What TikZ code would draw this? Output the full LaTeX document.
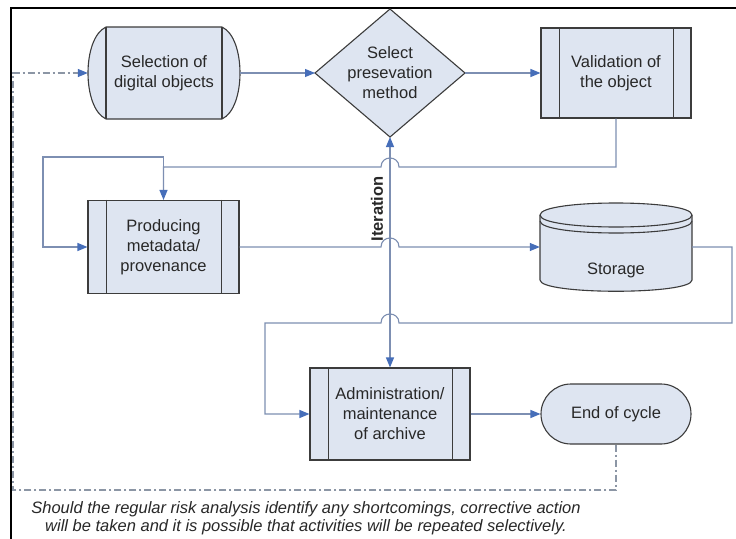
\documentclass[tikz,border=0pt]{standalone}
\usepackage{fontspec}
\setmainfont{Liberation Sans}
\usetikzlibrary{arrows.meta}
\definecolor{boxfill}{RGB}{222,229,241}
\definecolor{boxline}{RGB}{60,60,60}
\definecolor{connc}{RGB}{125,143,178}
\definecolor{tipblue}{RGB}{70,110,185}
\definecolor{dashc}{RGB}{140,150,165}
\definecolor{txt}{RGB}{40,40,40}
\begin{document}
\begin{tikzpicture}[x=1pt,y=-1pt,
  font=\fontsize{16.5}{20}\selectfont,
  shapeline/.style={draw=boxline, line width=1.1pt},
  proc/.style={shapeline, fill=boxfill, align=center, text=txt, inner sep=0pt},
  plain/.style={align=center, text=txt, inner sep=0pt},
  conn/.style={draw=connc, line width=1.1pt},
  arr/.style={-{Triangle[length=10pt,width=8pt,color=tipblue]}},
  dbl/.style={{Triangle[length=10pt,width=8pt,color=tipblue]}-{Triangle[length=10pt,width=8pt,color=tipblue]}},
  dashdot/.style={draw=dashc, line width=1.1pt, dash pattern=on 7pt off 3pt on 2pt off 3pt}]
\useasboundingbox[fill=white] (0,0) rectangle (736,538);

% frame
\draw[black, line width=2pt] (737,8) -- (11,8) -- (11,539);

% Selection shape
\draw[shapeline, fill=boxfill] (106,27) -- (222,27) .. controls (246,38) and (246,108) .. (222,119) -- (106,119) .. controls (82,108) and (82,38) .. (106,27) -- cycle;
\draw[shapeline] (106,27) -- (106,119) (222,27) -- (222,119);
\node[plain, minimum width=152pt, minimum height=92pt] (sel) at (164,73) {Selection of\\digital objects};

% Diamond
\draw[shapeline, fill=boxfill] (315,73) -- (390,9) -- (465,73) -- (390,137) -- cycle;
\coordinate (diaW) at (315,73);
\coordinate (diaE) at (465,73);
\coordinate (diaS) at (390,137);
\node[plain] (dia) at (390,73) {Select\\presevation\\method};

% Validation
\node[proc, minimum width=150pt, minimum height=90pt] (val) at (616,73) {Validation of\\the object};
\draw[shapeline] ([xshift=19pt]val.north west) -- ([xshift=19pt]val.south west)
                 ([xshift=-18pt]val.north east) -- ([xshift=-18pt]val.south east);

% Producing
\node[proc, minimum width=151pt, minimum height=93pt] (prod) at (163.5,247) {Producing\\metadata/\\provenance};
\draw[shapeline] ([xshift=19pt]prod.north west) -- ([xshift=19pt]prod.south west)
                 ([xshift=-18pt]prod.north east) -- ([xshift=-18pt]prod.south east);

% Storage
\draw[shapeline, fill=boxfill] (540,215) -- (540,280) .. controls (540,295) and (692,295) .. (692,280) -- (692,215) .. controls (692,199) and (540,199) .. (540,215) -- cycle;
\draw[shapeline] (540,215) .. controls (540,231) and (692,231) .. (692,215);
\draw[shapeline] (540,221) .. controls (540,237) and (692,237) .. (692,221);
\node[plain, minimum width=152pt, minimum height=88pt] (sto) at (616,247) {};
\node[plain] (stolabel) at (616,270) {Storage};

% Administration
\node[proc, minimum width=160pt, minimum height=92pt] (adm) at (390,414) {Administration/\\maintenance\\of archive};
\draw[shapeline] ([xshift=19pt]adm.north west) -- ([xshift=19pt]adm.south west)
                 ([xshift=-18pt]adm.north east) -- ([xshift=-18pt]adm.south east);

% End of cycle
\node[proc, rounded corners=30pt, minimum width=150pt, minimum height=60pt] (end) at (616,414) {End of cycle};

% connectors
\draw[conn, arr] (sel.east) -- (diaW);
\draw[conn, arr] (diaE) -- (val.west);
\draw[conn, dbl] (adm.north) -- (diaS);
\coordinate (j1) at (163.5,167);
\draw[conn, arr] (val.south) -- (616,167) -- (399,167) .. controls (399,155) and (381,155) .. (381,167) -- (j1) -- (prod.north);
\draw[conn, arr] (j1) -- (163.5,157) -- (43,157) -- (43,247) -- (prod.west);
\draw[conn, arr] (prod.east) -- (381,247) .. controls (381,235) and (399,235) .. (399,247) -- (sto.west);
\draw[conn, arr] (sto.east) -- (732,247) -- (732,323) -- (399,323) .. controls (399,311) and (381,311) .. (381,323) -- (265,323) -- (265,414) -- (adm.west);
\draw[conn, arr] (adm.east) -- (end.west);
\draw[dashdot, arr] (end.south) -- (616,490) -- (13,490) -- (13,73) -- (sel.west);

% labels
\node[plain, rotate=90, font=\fontsize{16.5}{20}\selectfont\bfseries] (itlabel) at (377,209) {Iteration};
\node[plain, font=\fontsize{16.5}{17.5}\selectfont\itshape] (foot) at (306,518) {Should the regular risk analysis identify any shortcomings, corrective action\\will be taken and it is possible that activities will be repeated selectively.};
\end{tikzpicture}
\end{document}
